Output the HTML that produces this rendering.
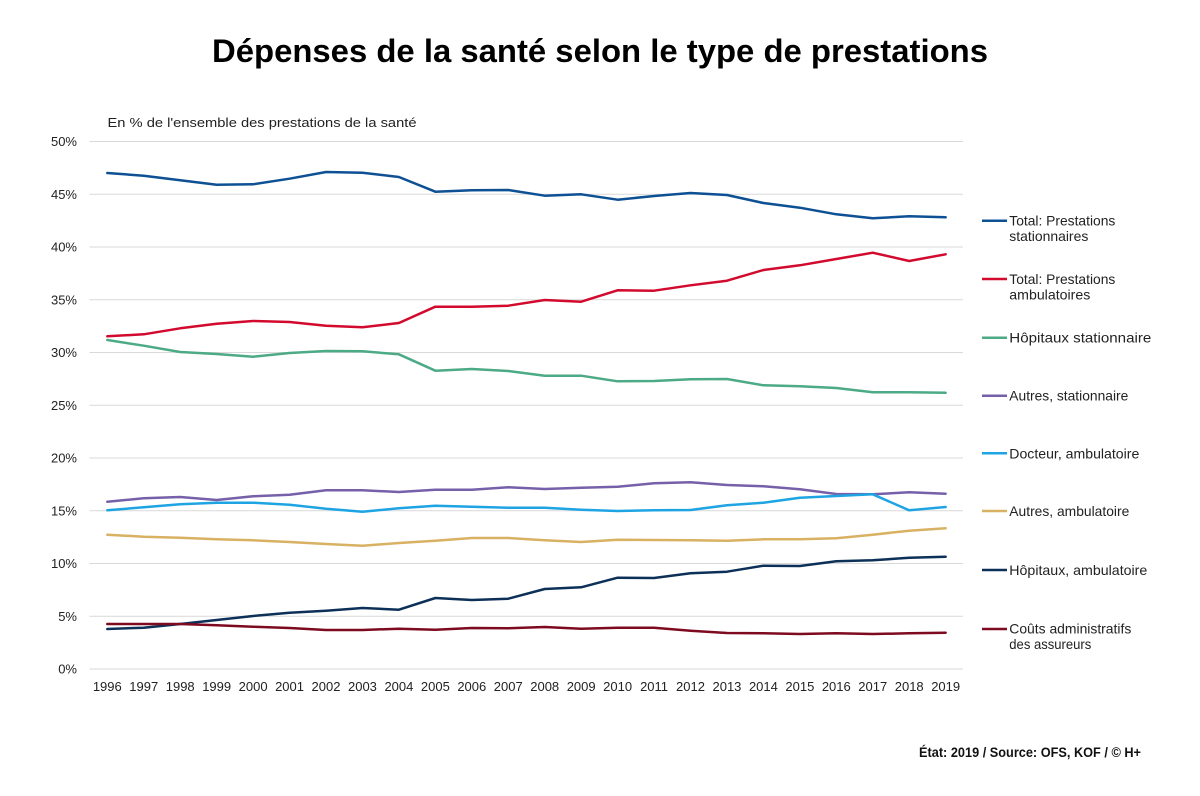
<!DOCTYPE html>
<html>
<head>
<meta charset="utf-8">
<style>
html,body{margin:0;padding:0;background:#fff;}
svg{display:block;}
text{font-family:"Liberation Sans",sans-serif;}
</style>
</head>
<body>
<svg width="1200" height="796" viewBox="0 0 1200 796" xmlns="http://www.w3.org/2000/svg">
<rect width="1200" height="796" fill="#fff"/>
<!-- Title -->
<text x="600" y="62" text-anchor="middle" font-size="32" font-weight="bold" fill="#000" textLength="776" lengthAdjust="spacingAndGlyphs">Dépenses de la santé selon le type de prestations</text>
<!-- Subtitle -->
<text x="107.5" y="127" font-size="13" fill="#222" textLength="309" lengthAdjust="spacingAndGlyphs">En % de l'ensemble des prestations de la santé</text>

<!-- Gridlines -->
<g stroke="#d9d9d9" stroke-width="1">
<line x1="89.5" x2="963" y1="141.5" y2="141.5"/>
<line x1="89.5" x2="963" y1="194.25" y2="194.25"/>
<line x1="89.5" x2="963" y1="247" y2="247"/>
<line x1="89.5" x2="963" y1="299.75" y2="299.75"/>
<line x1="89.5" x2="963" y1="352.5" y2="352.5"/>
<line x1="89.5" x2="963" y1="405.25" y2="405.25"/>
<line x1="89.5" x2="963" y1="458" y2="458"/>
<line x1="89.5" x2="963" y1="510.75" y2="510.75"/>
<line x1="89.5" x2="963" y1="563.5" y2="563.5"/>
<line x1="89.5" x2="963" y1="616.25" y2="616.25"/>
<line x1="89.5" x2="963" y1="669" y2="669"/>
</g>

<!-- Y labels -->
<g font-size="13" fill="#222" text-anchor="end">
<text x="77" y="146">50%</text>
<text x="77" y="198.75">45%</text>
<text x="77" y="251.5">40%</text>
<text x="77" y="304.25">35%</text>
<text x="77" y="357">30%</text>
<text x="77" y="409.75">25%</text>
<text x="77" y="462.5">20%</text>
<text x="77" y="515.25">15%</text>
<text x="77" y="568">10%</text>
<text x="77" y="620.75">5%</text>
<text x="77" y="673.5">0%</text>
</g>

<!-- X labels -->
<g font-size="13" fill="#222" text-anchor="middle">
<text x="107.3" y="691">1996</text>
<text x="143.75" y="691">1997</text>
<text x="180.2" y="691">1998</text>
<text x="216.65" y="691">1999</text>
<text x="253.1" y="691">2000</text>
<text x="289.55" y="691">2001</text>
<text x="326" y="691">2002</text>
<text x="362.45" y="691">2003</text>
<text x="398.9" y="691">2004</text>
<text x="435.35" y="691">2005</text>
<text x="471.8" y="691">2006</text>
<text x="508.25" y="691">2007</text>
<text x="544.7" y="691">2008</text>
<text x="581.15" y="691">2009</text>
<text x="617.6" y="691">2010</text>
<text x="654.05" y="691">2011</text>
<text x="690.5" y="691">2012</text>
<text x="726.95" y="691">2013</text>
<text x="763.4" y="691">2014</text>
<text x="799.85" y="691">2015</text>
<text x="836.3" y="691">2016</text>
<text x="872.75" y="691">2017</text>
<text x="909.2" y="691">2018</text>
<text x="945.65" y="691">2019</text>
</g>

<!-- Series -->
<g fill="none" stroke-width="2.5" stroke-linejoin="round" stroke-linecap="round">
<polyline stroke="#0d5094" points="107.3,173 143.75,175.7 180.2,180.3 216.65,184.7 253.1,184.3 289.55,178.7 326,172 362.45,172.7 398.9,177 435.35,191.7 471.8,190.3 508.25,190 544.7,195.7 581.15,194.3 617.6,199.7 654.05,196 690.5,193 726.95,195 763.4,203 799.85,207.7 836.3,214.3 872.75,218.3 909.2,216.3 945.65,217.3"/>
<polyline stroke="#d20a2e" points="107.3,336.3 143.75,334.3 180.2,328.3 216.65,323.7 253.1,321 289.55,322 326,325.7 362.45,327.3 398.9,323 435.35,306.7 471.8,306.7 508.25,305.7 544.7,300 581.15,301.7 617.6,290.3 654.05,290.7 690.5,285.3 726.95,280.7 763.4,270 799.85,265.3 836.3,259 872.75,252.7 909.2,261 945.65,254.3"/>
<polyline stroke="#4caa86" points="107.3,340 143.75,345.7 180.2,352 216.65,354 253.1,356.7 289.55,353 326,351 362.45,351.3 398.9,354.3 435.35,370.7 471.8,369 508.25,371 544.7,375.7 581.15,375.7 617.6,381.3 654.05,381 690.5,379.3 726.95,379 763.4,385.3 799.85,386.3 836.3,388 872.75,392.3 909.2,392.3 945.65,392.7"/>
<polyline stroke="#7660a9" points="107.3,501.7 143.75,498.3 180.2,497 216.65,500 253.1,496.3 289.55,494.7 326,490.3 362.45,490.3 398.9,492 435.35,489.7 471.8,489.7 508.25,487.3 544.7,489 581.15,487.7 617.6,486.7 654.05,483.3 690.5,482.3 726.95,485 763.4,486.3 799.85,489.3 836.3,494 872.75,494.3 909.2,492.3 945.65,493.7"/>
<polyline stroke="#1ea4e3" points="107.3,510.3 143.75,507.3 180.2,504.3 216.65,502.7 253.1,502.7 289.55,504.7 326,508.7 362.45,511.7 398.9,508.3 435.35,505.7 471.8,506.7 508.25,507.7 544.7,507.7 581.15,509.7 617.6,511 654.05,510.3 690.5,510 726.95,505.3 763.4,502.7 799.85,497.7 836.3,496 872.75,494.3 909.2,510.3 945.65,507"/>
<polyline stroke="#d8b163" points="107.3,534.7 143.75,536.7 180.2,537.7 216.65,539.3 253.1,540.3 289.55,542 326,544 362.45,545.7 398.9,543 435.35,540.7 471.8,538 508.25,538 544.7,540.3 581.15,542 617.6,539.7 654.05,540 690.5,540.3 726.95,540.7 763.4,539.3 799.85,539.3 836.3,538.3 872.75,534.7 909.2,530.7 945.65,528.3"/>
<polyline stroke="#0d3058" points="107.3,629 143.75,627.7 180.2,624 216.65,620 253.1,616 289.55,612.7 326,610.7 362.45,608 398.9,609.7 435.35,598 471.8,600 508.25,598.7 544.7,589 581.15,587.3 617.6,577.7 654.05,578 690.5,573.3 726.95,571.7 763.4,565.7 799.85,566 836.3,561.3 872.75,560.3 909.2,557.7 945.65,556.7"/>
<polyline stroke="#7e0a20" points="107.3,624 143.75,624 180.2,624 216.65,625.3 253.1,626.7 289.55,628 326,630 362.45,630 398.9,628.7 435.35,629.7 471.8,628 508.25,628.3 544.7,627 581.15,628.7 617.6,627.7 654.05,627.7 690.5,630.7 726.95,633 763.4,633.3 799.85,634 836.3,633.3 872.75,634 909.2,633.3 945.65,632.7"/>
</g>

<!-- Legend -->
<g stroke-width="2.5">
<line x1="982" x2="1007" y1="220.7" y2="220.7" stroke="#0d5094"/>
<line x1="982" x2="1007" y1="279" y2="279" stroke="#d20a2e"/>
<line x1="982" x2="1007" y1="337.7" y2="337.7" stroke="#4caa86"/>
<line x1="982" x2="1007" y1="395.7" y2="395.7" stroke="#7660a9"/>
<line x1="982" x2="1007" y1="453.3" y2="453.3" stroke="#1ea4e3"/>
<line x1="982" x2="1007" y1="511" y2="511" stroke="#d8b163"/>
<line x1="982" x2="1007" y1="570" y2="570" stroke="#0d3058"/>
<line x1="982" x2="1007" y1="629" y2="629" stroke="#7e0a20"/>
</g>
<g font-size="14" fill="#222">
<text x="1009.3" y="225.5" textLength="106" lengthAdjust="spacingAndGlyphs">Total: Prestations</text>
<text x="1009.3" y="241" textLength="79" lengthAdjust="spacingAndGlyphs">stationnaires</text>
<text x="1009.3" y="284" textLength="106" lengthAdjust="spacingAndGlyphs">Total: Prestations</text>
<text x="1009.3" y="299.5" textLength="81" lengthAdjust="spacingAndGlyphs">ambulatoires</text>
<text x="1009.3" y="342.7" textLength="142" lengthAdjust="spacingAndGlyphs">Hôpitaux stationnaire</text>
<text x="1009.3" y="400.7" textLength="119" lengthAdjust="spacingAndGlyphs">Autres, stationnaire</text>
<text x="1009.3" y="458.3" textLength="130" lengthAdjust="spacingAndGlyphs">Docteur, ambulatoire</text>
<text x="1009.3" y="516" textLength="120" lengthAdjust="spacingAndGlyphs">Autres, ambulatoire</text>
<text x="1009.3" y="575" textLength="138" lengthAdjust="spacingAndGlyphs">Hôpitaux, ambulatoire</text>
<text x="1009.3" y="633.5" textLength="122" lengthAdjust="spacingAndGlyphs">Coûts administratifs</text>
<text x="1009.3" y="649" textLength="82" lengthAdjust="spacingAndGlyphs">des assureurs</text>
</g>

<!-- Footer -->
<text x="919" y="757" font-size="13.5" font-weight="bold" fill="#111" textLength="222" lengthAdjust="spacingAndGlyphs">État: 2019 / Source: OFS, KOF / © H+</text>
</svg>
</body>
</html>
